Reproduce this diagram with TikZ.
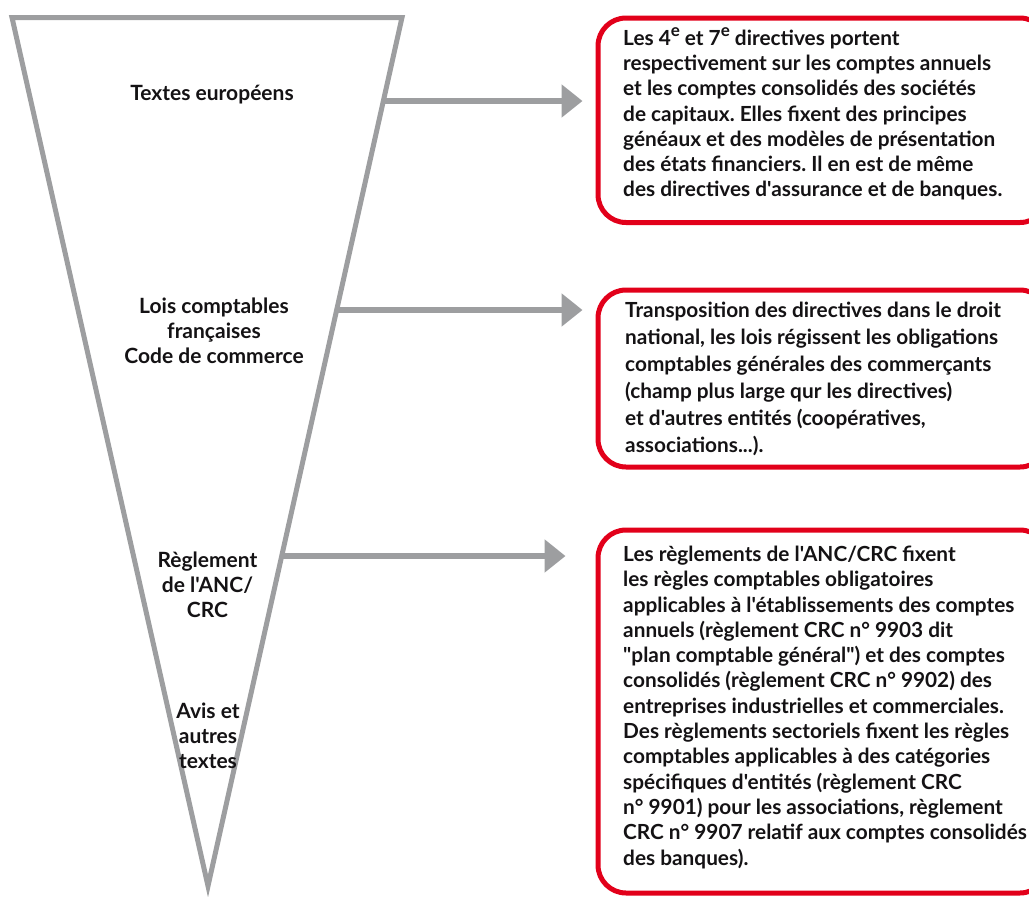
\documentclass[tikz,border=0pt]{standalone}
\usepackage{fontspec}
\setmainfont{Lato}[Ligatures=TeXOff]
\usetikzlibrary{arrows.meta}
\definecolor{fgray}{RGB}{157,158,160}
\definecolor{fred}{RGB}{226,0,26}
\definecolor{ftext}{RGB}{20,18,20}
\newcommand\supe{\raisebox{0.42em}{\fontsize{17}{17}\selectfont e}}
\frenchspacing
\begin{document}
\begin{tikzpicture}[x=1pt,y=-1pt,
  funnel/.style={draw=fgray,line width=5pt,line join=miter},
  arr/.style={draw=fgray,line width=5.5pt,-{Triangle[length=21pt,width=32pt]}},
  redbox/.style={draw=fred,line width=5pt,rounded corners=28pt,inner sep=0pt,anchor=north west},
  boxtxt/.style={font=\bfseries\fontsize{20.8}{25.2}\selectfont,text=ftext,align=left,inner sep=0pt,anchor=base west},
  lbl/.style={font=\bfseries\fontsize{21}{25}\selectfont,text=ftext,align=center,inner sep=0pt,anchor=base}]
\useasboundingbox (0,0) rectangle (1029,897);
% funnel
\draw[funnel] (12,17.5) coordinate (tl) -- (402,17.5) coordinate (tr) -- (208,886) coordinate (ap) -- cycle;
% labels (anchored at the baseline of their last line)
\node[lbl] (l1) at (212,100) {Textes européens};
\node[lbl] (l2) at (214,363) {Lois comptables\\françaises\\Code de commerce};
\node[lbl] (l3) at (207.5,617) {Règlement\\de l'ANC/\\CRC};
\node[lbl] (l4) at (208,768) {Avis et\\autres\\textes};
% boxes
\node[redbox, minimum width=450pt, minimum height=204.5pt] (box1) at (595.5,15.5) {};
\node[redbox, minimum width=450pt, minimum height=177pt] (box2) at (595.5,287.5) {};
\node[redbox, minimum width=450pt, minimum height=363pt] (box3) at (595.5,527.5) {};
% texts (anchored at the baseline of their last line)
\node[boxtxt] (t1) at (623,196.7) {Les 4\supe{} et 7\supe{} directives portent\\
respectivement sur les comptes annuels\\
et les comptes consolidés des sociétés\\
de capitaux. Elles fixent des principes\\
généaux et des modèles de présentation\\
des états financiers. Il en est de même\\
des directives d'assurance et de banques.};
\node[boxtxt, font=\bfseries\fontsize{20.8}{27.1}\selectfont] (t2) at (625,452.7) {Transposition des directives dans le droit\\
national, les lois régissent les obligations\\
comptables générales des commerçants\\
(champ plus large qur les directives)\\
et d'autres entités (coopératives,\\
associations...).};
\node[boxtxt, font=\bfseries\fontsize{20.8}{25.3}\selectfont] (t3) at (623,865) {Les règlements de l'ANC/CRC fixent\\
les règles comptables obligatoires\\
applicables à l'établissements des comptes\\
annuels (règlement CRC n° 9903 dit\\
"plan comptable général") et des comptes\\
consolidés (règlement CRC n° 9902) des\\
entreprises industrielles et commerciales.\\
Des règlements sectoriels fixent les règles\\
comptables applicables à des catégories\\
spécifiques d'entités (règlement CRC\\
n° 9901) pour les associations, règlement\\
CRC n° 9907 relatif aux comptes consolidés\\
des banques).};
% arrows
\coordinate (s1) at (383,101);
\coordinate (s2) at (337,310);
\coordinate (s3) at (282,556);
\coordinate (e1) at ([xshift=-13pt]box1.west |- s1);
\coordinate (e2) at ([xshift=-13pt]box2.west |- s2);
\coordinate (e3) at ([xshift=-30pt]box3.west |- s3);
\draw[arr] (s1) -- (e1);
\draw[arr] (s2) -- (e2);
\draw[arr] (s3) -- (e3);
\end{tikzpicture}
\end{document}
